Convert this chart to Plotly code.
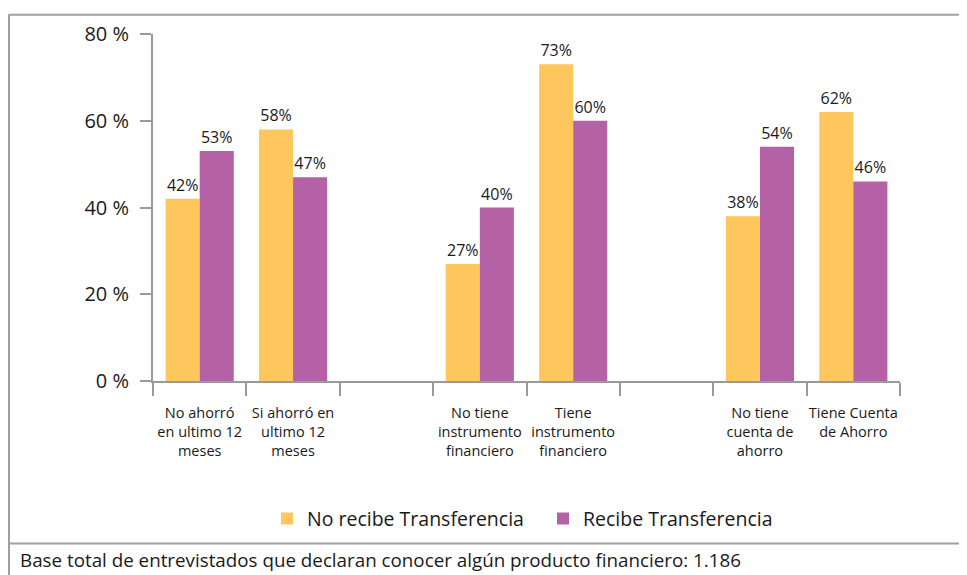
import plotly.graph_objects as go

categories = [
    "No ahorró<br>en ultimo 12<br>meses",
    "Si ahorró en<br>ultimo 12<br>meses",
    " ",
    "No tiene<br>instrumento<br>financiero",
    "Tiene<br>instrumento<br>financiero",
    "  ",
    "No tiene<br>cuenta de<br>ahorro",
    "Tiene Cuenta<br>de Ahorro",
]
no_recibe = [42, 58, None, 27, 73, None, 38, 62]
recibe = [53, 47, None, 40, 60, None, 54, 46]
y_ticks = [0, 20, 40, 60, 80]
y_tick_labels = ["0 %", "20 %", "40 %", "60 %", "80 %"]
footnote = "Base total de entrevistados que declaran conocer algún producto financiero: 1.186"

FONT = "Open Sans"
ORANGE = "#FEC75E"
PURPLE = "#B461A6"
AXIS = "#9a9a9a"
TXT = "#1a1a1a"


def labels(vals):
    return [f"{v}%" if v is not None else "" for v in vals]


fig = go.Figure()
fig.add_trace(go.Bar(
    x=categories, y=no_recibe, name="No recibe Transferencia",
    marker=dict(color=ORANGE, line=dict(width=0)),
    text=labels(no_recibe), textposition="outside",
    textfont=dict(size=16, color=TXT, family=FONT),
    cliponaxis=False,
))
fig.add_trace(go.Bar(
    x=categories, y=recibe, name="Recibe Transferencia",
    marker=dict(color=PURPLE, line=dict(width=0)),
    text=labels(recibe), textposition="outside",
    textfont=dict(size=16, color=TXT, family=FONT),
    cliponaxis=False,
))

# the page places the figure at an 8px body offset
O = 8
W, H = 967 - O, 575 - O
# plot area in page pixels: x 153..900, y 31..381
PX0, PX1, PY0, PY1 = 153, 900, 31, 381
L, R, T, B = PX0 - O, (W + O) - PX1, PY0 - O, (H + O) - PY1
pw, ph = PX1 - PX0, PY1 - PY0


def px(x):
    return (x - PX0) / pw


def py(y):
    return (PY1 - y) / ph


fig.update_layout(
    width=W, height=H,
    margin=dict(l=L, r=R, t=T, b=B, pad=0),
    paper_bgcolor="white", plot_bgcolor="white",
    barmode="group", bargap=0.27, bargroupgap=0,
    font=dict(family=FONT, color=TXT),
    showlegend=True,
    legend=dict(
        orientation="h", x=px(543), xanchor="center",
        y=py(520), yanchor="middle",
        font=dict(size=19.5, family=FONT, color=TXT),
        itemwidth=30, tracegroupgap=0,
        entrywidth=231, entrywidthmode="pixels",
        bgcolor="rgba(0,0,0,0)",
    ),
)

fig.update_xaxes(
    type="category", categoryorder="array", categoryarray=categories,
    showline=True, linecolor=AXIS, linewidth=2,
    ticks="outside", tickson="boundaries", ticklen=13, tickwidth=2, tickcolor=AXIS,
    tickfont=dict(size=14.5, family=FONT, color=TXT), tickangle=0,
    ticklabelstandoff=18,
    showgrid=False, zeroline=False, fixedrange=True,
)
fig.update_yaxes(
    range=[0, 80], tickvals=y_ticks, ticktext=y_tick_labels,
    showline=True, linecolor=AXIS, linewidth=2,
    ticks="outside", ticklen=11, tickwidth=2, tickcolor=AXIS,
    tickfont=dict(size=20, family=FONT, color=TXT),
    ticklabelstandoff=7,
    showgrid=False, zeroline=False, fixedrange=True,
)

border = dict(color="#a0a0a0", width=2)
fig.add_shape(type="line", xref="paper", yref="paper",
              x0=px(9), x1=px(975), y0=py(11.5), y1=py(11.5), line=border)
fig.add_shape(type="line", xref="paper", yref="paper",
              x0=px(9), x1=px(9), y0=py(11), y1=py(580), line=border)
fig.add_shape(type="line", xref="paper", yref="paper",
              x0=px(9), x1=px(975), y0=py(545), y1=py(545), line=border)

fig.add_annotation(
    text=footnote, xref="paper", yref="paper",
    x=px(18), y=py(562), xanchor="left", yanchor="middle",
    showarrow=False, font=dict(size=18.8, family=FONT, color=TXT),
)

fig.write_html("out.html")
